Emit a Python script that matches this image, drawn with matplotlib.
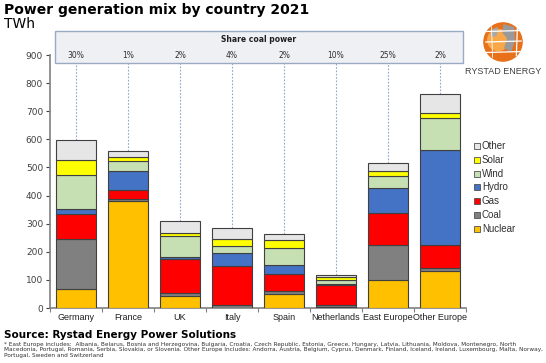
import matplotlib
matplotlib.use("Agg")
import matplotlib.pyplot as plt
from matplotlib.patches import Rectangle, Circle, Wedge, Polygon
import numpy as np

countries = ["Germany", "France", "UK", "Italy", "Spain", "Netherlands", "East Europe", "Other Europe"]
coal_share = ["30%", "1%", "2%", "4%", "2%", "10%", "25%", "2%"]
nuclear = [68, 381, 44, 0, 51, 4, 98, 133]
coal = [177, 7, 9, 9, 8, 8, 127, 11]
gas = [89, 32, 123, 141, 62, 71, 112, 80]
hydro = [19, 66, 6, 47, 33, 1, 91, 337]
wind = [119, 37, 74, 22, 59, 17, 40, 114]
solar = [54, 13, 10, 26, 30, 9, 18, 18]
other = [71, 22, 44, 38, 20, 7, 29, 68]

series_names = ["Nuclear", "Coal", "Gas", "Hydro", "Wind", "Solar", "Other"]
series_vals = [nuclear, coal, gas, hydro, wind, solar, other]
colors = ["#FFC000", "#808080", "#FF0000", "#4472C4", "#C6E0B4", "#FFFF00", "#E7E6E6"]

W, H = 546, 363
fig = plt.figure(figsize=(W / 100, H / 100), dpi=100)
fig.patch.set_facecolor("white")

def fx(x):
    return x / W

def fy(y):
    return 1 - y / H

ax_l, ax_r, ax_t, ax_b = 50, 466, 55, 308
ax = fig.add_axes([fx(ax_l), fy(ax_b), (ax_r - ax_l) / W, (ax_b - ax_t) / H])

x = np.arange(len(countries))
bottom = np.zeros(len(countries))
for name, vals, c in zip(series_names, series_vals, colors):
    v = np.array(vals, dtype=float)
    ax.bar(x, v, bottom=bottom, width=0.77, color=c, edgecolor="#404040", linewidth=0.8, zorder=3)
    bottom += v
totals = bottom

ax.set_xlim(-0.5, len(countries) - 0.5)
ax.set_ylim(0, 900)
ax.set_yticks(np.arange(0, 901, 100))
ax.tick_params(axis="y", labelsize=6.5, colors="#404040", length=3, width=0.8, direction="out", pad=2)
ax.set_xticks(np.arange(-0.5, len(countries), 1.0))
ax.set_xticklabels([])
ax.tick_params(axis="x", length=3, width=0.8, colors="#808080", direction="out")
for s in ["top", "right"]:
    ax.spines[s].set_visible(False)
for s in ["left", "bottom"]:
    ax.spines[s].set_color("#808080")
    ax.spines[s].set_linewidth(1.2)
for i, c in enumerate(countries):
    ax.text(i, -18, c, ha="center", va="top", fontsize=6.5, color="#202020",
            family=["Liberation Sans", "DejaVu Sans"])

# dashed connectors from box to bar tops
box_bottom_data = 900 - (63 - 55) * 900 / (ax_b - ax_t)
for i, t in enumerate(totals):
    ax.plot([i, i], [t, box_bottom_data], ls=(0, (1.5, 1.5)), color="#8FA8C8", lw=0.8,
            zorder=2, clip_on=False)

# share coal power box
box = Rectangle((fx(55), fy(63)), fx(463) - fx(55), fy(31) - fy(63), transform=fig.transFigure,
                facecolor="#EEF0F4", edgecolor="#9AAAC4", linewidth=1.0, zorder=5)
fig.add_artist(box)
fig.text(fx(259), fy(40), "Share coal power", ha="center", va="center", fontsize=5.5,
         fontweight="bold", color="#202020", zorder=6)
for i, s in enumerate(coal_share):
    xpix = ax_l + (i + 0.5) * (ax_r - ax_l) / len(countries)
    fig.text(fx(xpix), fy(55), s, ha="center", va="center", fontsize=5.5, color="#303030", zorder=6)

# title
fig.text(fx(4), fy(10), "Power generation mix by country 2021", ha="left", va="center",
         fontsize=10, fontweight="bold", color="#000000")
fig.text(fx(4), fy(24), "TWh", ha="left", va="center", fontsize=10, color="#000000")

# legend
leg_items = list(zip(series_names, colors))[::-1]
for k, (name, c) in enumerate(leg_items):
    yc = 146 + k * 13.8
    sq = Rectangle((fx(474), fy(yc + 3)), 6 / W, 6 / H, transform=fig.transFigure,
                   facecolor=c, edgecolor="#505050", linewidth=0.6)
    fig.add_artist(sq)
    fig.text(fx(482), fy(yc), name, ha="left", va="center", fontsize=7, color="#303030",
             family=["Liberation Sans", "DejaVu Sans"])

# logo (simple stylised globe)
lx, ly, lr = 503, 42, 19
logo_ax = fig.add_axes([fx(lx - lr - 2), fy(ly + lr + 2), (2 * lr + 4) / W, (2 * lr + 4) / H])
logo_ax.set_xlim(-1.1, 1.1)
logo_ax.set_ylim(-1.1, 1.1)
logo_ax.set_aspect("equal")
logo_ax.axis("off")
logo_ax.add_patch(Circle((0, 0), 1.0, color="#E8701A"))
logo_ax.add_patch(Circle((-0.25, 0.1), 0.55, color="#F8A848"))
logo_ax.add_patch(Polygon([[0.05, 0.9], [0.55, 0.75], [0.6, 0.1], [0.4, -0.5], [0.1, -0.3],
                           [0.25, 0.2], [0.0, 0.5]], closed=True, color="#9A9A9A"))
logo_ax.add_patch(Polygon([[-0.6, 0.6], [-0.3, 0.75], [-0.35, 0.35], [-0.6, 0.3]], closed=True,
                          color="#A8A8A8"))
for yy in [-0.55, 0.0, 0.55]:
    logo_ax.plot([-0.9, 0.95], [yy, yy + 0.05], color="white", lw=0.9)
logo_ax.plot([0.7, 0.75], [-0.7, 0.7], color="white", lw=0.9)
logo_ax.plot([-0.55, -0.6], [-0.8, 0.8], color="white", lw=0.6)
fig.text(fx(503), fy(72), "RYSTAD ENERGY", ha="center", va="center", fontsize=6.5,
         color="#404040", family=["Liberation Sans", "DejaVu Sans"])

# source & footnote
fig.text(fx(4), fy(335), "Source: Rystad Energy Power Solutions", ha="left", va="center",
         fontsize=7.5, fontweight="bold", color="#000000")
foot = ("* East Europe includes:  Albania, Belarus, Bosnia and Herzegovina, Bulgaria, Croatia, Czech Republic, Estonia, Greece, Hungary, Latvia, Lithuania, Moldova, Montenegro, North\n"
        "Macedonia, Portugal, Romania, Serbia, Slovakia, or Slovenia. Other Europe Includes: Andorra, Austria, Belgium, Cyprus, Denmark, Finland, Iceland, Ireland, Luxembourg, Malta, Norway,\n"
        "Portugal, Sweden and Switzerland")
fig.text(fx(4), fy(342), foot, ha="left", va="top", fontsize=4.15, color="#303030", linespacing=1.1)

fig.savefig("out.png", dpi=100)
